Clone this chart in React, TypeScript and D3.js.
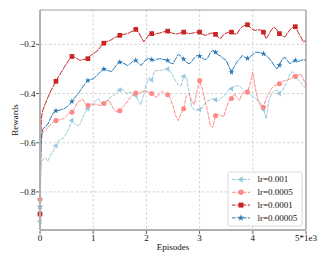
import { useEffect, useRef } from 'react';
import * as d3 from 'd3';

const episodes = [
  0, 0.01, 0.025,
  0.05, 0.1, 0.15, 0.2, 0.25, 0.3, 0.35, 0.4, 0.45, 0.5,
  0.55, 0.6, 0.65, 0.7, 0.75, 0.8, 0.85, 0.9, 0.95, 1.0,
  1.05, 1.1, 1.15, 1.2, 1.25, 1.3, 1.35, 1.4, 1.45, 1.5,
  1.55, 1.6, 1.65, 1.7, 1.75, 1.8, 1.85, 1.9, 1.95, 2.0,
  2.05, 2.1, 2.15, 2.2, 2.25, 2.3, 2.35, 2.4, 2.45, 2.5,
  2.55, 2.6, 2.65, 2.7, 2.75, 2.8, 2.85, 2.9, 2.95, 3.0,
  3.05, 3.1, 3.15, 3.2, 3.25, 3.3, 3.35, 3.4, 3.45, 3.5,
  3.55, 3.6, 3.65, 3.7, 3.75, 3.8, 3.85, 3.9, 3.95, 4.0,
  4.05, 4.1, 4.15, 4.2, 4.25, 4.3, 4.35, 4.4, 4.45, 4.5,
  4.55, 4.6, 4.65, 4.7, 4.75, 4.8, 4.85, 4.9, 4.95, 5.0,
];

const lr001 = [
  -0.92, -0.78, -0.68,
  -0.667, -0.662, -0.675, -0.65, -0.633, -0.612, -0.592, -0.585, -0.578, -0.56,
  -0.54, -0.51, -0.52, -0.531, -0.526, -0.5, -0.476, -0.462, -0.449, -0.44,
  -0.428, -0.42, -0.438, -0.44, -0.43, -0.42, -0.412, -0.405, -0.395, -0.385,
  -0.383, -0.395, -0.4, -0.395, -0.4, -0.408, -0.43, -0.445, -0.4, -0.36,
  -0.335, -0.345, -0.31, -0.306, -0.306, -0.305, -0.3, -0.3, -0.31, -0.327,
  -0.35, -0.365, -0.37, -0.33, -0.33, -0.39, -0.456, -0.465, -0.468, -0.465,
  -0.458, -0.44, -0.43, -0.425, -0.42, -0.425, -0.428, -0.42, -0.41, -0.4,
  -0.385, -0.38, -0.372, -0.368, -0.37, -0.38, -0.39, -0.39, -0.4, -0.415,
  -0.42, -0.428, -0.44, -0.465, -0.503, -0.43, -0.4, -0.39, -0.385, -0.4,
  -0.39, -0.37, -0.35, -0.32, -0.31, -0.33, -0.345, -0.354, -0.37, -0.38,
];

const lr0005 = [
  -0.83, -0.7, -0.6,
  -0.558, -0.55, -0.537, -0.525, -0.515, -0.51, -0.507, -0.504, -0.502, -0.49,
  -0.48, -0.476, -0.46, -0.437, -0.43, -0.422, -0.44, -0.449, -0.442, -0.445,
  -0.442, -0.447, -0.449, -0.44, -0.43, -0.428, -0.45, -0.468, -0.475, -0.47,
  -0.455, -0.445, -0.43, -0.415, -0.405, -0.398, -0.4, -0.395, -0.39, -0.39,
  -0.395, -0.4, -0.41, -0.415, -0.4, -0.39, -0.4, -0.405, -0.42, -0.45,
  -0.49, -0.51, -0.48, -0.462, -0.41, -0.4, -0.43, -0.445, -0.39, -0.347,
  -0.38, -0.428, -0.47, -0.53, -0.537, -0.49, -0.483, -0.49, -0.495, -0.46,
  -0.43, -0.42, -0.4, -0.415, -0.428, -0.4, -0.39, -0.395, -0.36, -0.313,
  -0.38, -0.43, -0.45, -0.456, -0.42, -0.4, -0.38, -0.37, -0.365, -0.36,
  -0.352, -0.347, -0.345, -0.34, -0.335, -0.33, -0.325, -0.32, -0.34, -0.37,
];

const lr0001 = [
  -0.89, -0.62, -0.5,
  -0.47, -0.44, -0.415, -0.39, -0.37, -0.35, -0.33, -0.313, -0.295, -0.278,
  -0.262, -0.249, -0.252, -0.258, -0.265, -0.262, -0.26, -0.258, -0.245, -0.238,
  -0.23, -0.222, -0.205, -0.195, -0.19, -0.185, -0.18, -0.172, -0.168, -0.163,
  -0.16, -0.158, -0.156, -0.15, -0.145, -0.139, -0.15, -0.17, -0.19, -0.175,
  -0.16, -0.156, -0.16, -0.155, -0.154, -0.15, -0.148, -0.146, -0.152, -0.155,
  -0.158, -0.156, -0.152, -0.15, -0.153, -0.156, -0.155, -0.152, -0.15, -0.15,
  -0.158, -0.163, -0.16, -0.155, -0.154, -0.159, -0.172, -0.175, -0.16, -0.154,
  -0.15, -0.15, -0.157, -0.158, -0.14, -0.128, -0.122, -0.12, -0.13, -0.14,
  -0.143, -0.14, -0.142, -0.15, -0.177, -0.16, -0.14, -0.13, -0.14, -0.156,
  -0.165, -0.17, -0.155, -0.14, -0.13, -0.128, -0.15, -0.168, -0.19, -0.184,
];

const lr00005 = [
  -0.86, -0.7, -0.58,
  -0.545, -0.535, -0.524, -0.5, -0.478, -0.47, -0.469, -0.465, -0.462, -0.455,
  -0.445, -0.432, -0.418, -0.405, -0.39, -0.374, -0.36, -0.347, -0.343, -0.34,
  -0.33, -0.32, -0.308, -0.3, -0.304, -0.308, -0.31, -0.295, -0.28, -0.272,
  -0.275, -0.28, -0.286, -0.278, -0.268, -0.265, -0.275, -0.286, -0.272, -0.26,
  -0.258, -0.262, -0.265, -0.26, -0.258, -0.26, -0.263, -0.265, -0.275, -0.279,
  -0.258, -0.24, -0.248, -0.26, -0.272, -0.279, -0.27, -0.255, -0.245, -0.248,
  -0.255, -0.263, -0.255, -0.235, -0.224, -0.232, -0.243, -0.248, -0.258, -0.265,
  -0.29, -0.313, -0.29, -0.272, -0.26, -0.245, -0.252, -0.257, -0.25, -0.24,
  -0.232, -0.232, -0.235, -0.238, -0.245, -0.255, -0.268, -0.285, -0.3, -0.285,
  -0.26, -0.252, -0.265, -0.279, -0.27, -0.265, -0.27, -0.265, -0.262, -0.265,
];

const seriesNames = ['lr=0.001', 'lr=0.0005', 'lr=0.0001', 'lr=0.00005'];
const xTicks = [0, 1, 2, 3, 4, 5];
const xTickLabels = ['0', '1', '2', '3', '4', '5*1e3'];
const yTicks = [-0.8, -0.6, -0.4, -0.2];

const FONT = '"Liberation Serif", "DejaVu Serif", serif';

export default function App() {
  const svgRef = useRef<SVGSVGElement>(null);

  useEffect(() => {
    if (!svgRef.current) return;
    const svg = d3.select(svgRef.current);
    svg.selectAll('*').remove();

    const margin = { top: 10, right: 23, bottom: 33, left: 40 };
    const W = 329, H = 263;
    const width = W - margin.left - margin.right;
    const height = H - margin.top - margin.bottom;

    const g = svg.append('g').attr('transform', `translate(${margin.left},${margin.top})`);

    const x = d3.scaleLinear().domain([0, 5]).range([0, width]);
    const y = d3.scaleLinear().domain([-0.955, -0.06]).range([height, 0]);

    // grid
    g.append('g')
      .selectAll('line')
      .data(xTicks.slice(1, -1))
      .join('line')
      .attr('x1', d => x(d)).attr('x2', d => x(d))
      .attr('y1', 0).attr('y2', height)
      .attr('stroke', '#c8c8c8').attr('stroke-width', 0.8)
      .attr('stroke-dasharray', '2.5,2');
    g.append('g')
      .selectAll('line')
      .data(yTicks)
      .join('line')
      .attr('x1', 0).attr('x2', width)
      .attr('y1', d => y(d)).attr('y2', d => y(d))
      .attr('stroke', '#c8c8c8').attr('stroke-width', 0.8)
      .attr('stroke-dasharray', '2.5,2');

    const colors = ['#9AC9DB', '#FF8884', '#C82423', '#2878B5'];
    const all = [lr001, lr0005, lr0001, lr00005];
    const symbols = [d3.symbolTriangle, d3.symbolCircle, d3.symbolSquare, d3.symbolStar];
    const symSizes = [13, 20, 22, 11];
    const symRot = [-90, 0, 0, 0];

    const line = d3.line<number>()
      .x((_, i) => x(episodes[i]))
      .y(d => y(d));

    const markIdx = episodes
      .map((e, i) => (Math.abs(e / 0.3 - Math.round(e / 0.3)) < 1e-6 ? i : -1))
      .filter(i => i >= 0);

    all.forEach((vals, s) => {
      g.append('path')
        .datum(vals)
        .attr('fill', 'none')
        .attr('stroke', colors[s])
        .attr('stroke-width', 1)
        .attr('stroke-dasharray', s < 2 ? '4,1' : '6,0.8')
        .attr('d', line);

      g.append('g')
        .selectAll('path')
        .data(markIdx)
        .join('path')
        .attr('d', d3.symbol(symbols[s], symSizes[s]))
        .attr('transform', i => `translate(${x(episodes[i])},${y(vals[i])}) rotate(${symRot[s]})`)
        .attr('fill', colors[s]);
    });

    // spines
    const spine = (x1: number, y1: number, x2: number, y2: number, c: string, w: number) =>
      g.append('line').attr('x1', x1).attr('y1', y1).attr('x2', x2).attr('y2', y2)
        .attr('stroke', c).attr('stroke-width', w);
    spine(0, 0, width, 0, '#a0a0a0', 1.2);
    spine(width, 0, width, height, '#909090', 1.2);
    spine(0, 0, 0, height, '#b0b0b0', 2);
    spine(0, height, width, height, '#b0b0b0', 2);

    // x ticks
    const xt = g.append('g').attr('transform', `translate(0,${height})`);
    xTicks.forEach((t, i) => {
      xt.append('line').attr('x1', x(t)).attr('x2', x(t)).attr('y1', 1).attr('y2', 4)
        .attr('stroke', '#333').attr('stroke-width', 0.8);
      xt.append('text').attr('x', x(t)).attr('y', 10.5)
        .attr('text-anchor', 'middle').attr('font-family', FONT).attr('font-size', 9)
        .attr('fill', '#111').text(xTickLabels[i]);
    });

    // y ticks
    yTicks.forEach(t => {
      g.append('line').attr('x1', -4).attr('x2', -1).attr('y1', y(t)).attr('y2', y(t))
        .attr('stroke', '#333').attr('stroke-width', 0.8);
      g.append('text').attr('x', -4.5).attr('y', y(t)).attr('dy', '0.33em')
        .attr('text-anchor', 'end').attr('font-family', FONT).attr('font-size', 9)
        .attr('fill', '#111').text(d3.format('.1f')(t).replace('-', '\u2212'));
    });

    // axis labels
    svg.append('text')
      .attr('x', margin.left + width / 2).attr('y', 250)
      .attr('text-anchor', 'middle').attr('font-family', FONT).attr('font-size', 9)
      .attr('fill', '#111').text('Episodes');
    svg.append('text')
      .attr('transform', `translate(17.5,${margin.top + height / 2}) rotate(-90)`)
      .attr('text-anchor', 'middle').attr('font-family', FONT).attr('font-size', 9)
      .attr('fill', '#111').text('Rewards');

    // legend
    const lg = svg.append('g').attr('transform', 'translate(228,172)');
    lg.append('rect').attr('width', 74).attr('height', 54).attr('rx', 2)
      .attr('fill', 'white').attr('fill-opacity', 0.85)
      .attr('stroke', '#d0d0d0').attr('stroke-width', 0.8);
    seriesNames.forEach((name, s) => {
      const yy = 7.5 + s * 12.8;
      lg.append('line').attr('x1', 4).attr('x2', 22).attr('y1', yy).attr('y2', yy)
        .attr('stroke', colors[s]).attr('stroke-width', 1).attr('stroke-dasharray', '3.7,1.6');
      lg.append('path')
        .attr('d', d3.symbol(symbols[s], symSizes[s] + 3))
        .attr('transform', `translate(13,${yy}) rotate(${symRot[s]})`)
        .attr('fill', colors[s]);
      lg.append('text').attr('x', 29.5).attr('y', yy).attr('dy', '0.33em')
        .attr('font-family', FONT).attr('font-size', 9).attr('fill', '#111').text(name);
    });
  }, []);

  return (
    <svg
      ref={svgRef}
      width={329}
      height={263}
      style={{ position: 'absolute', left: 0, top: 0, background: 'white' }}
    />
  );
}
